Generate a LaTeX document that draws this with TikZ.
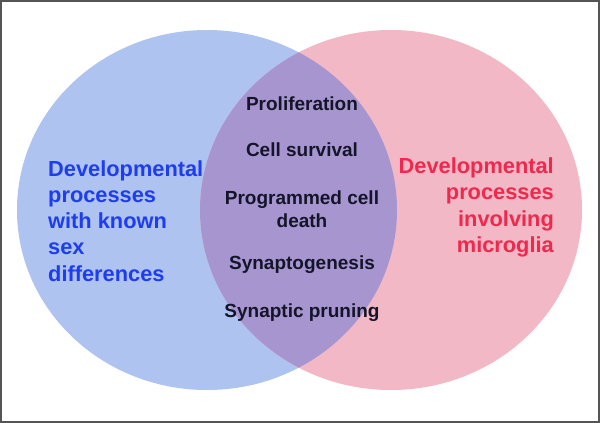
\documentclass[tikz,border=0pt]{standalone}
\usepackage{fontspec}
\setmainfont{Liberation Sans}
\usetikzlibrary{shapes.geometric}
\definecolor{blueset}{HTML}{AEC3F0}
\definecolor{pinkset}{HTML}{F2B8C5}
\definecolor{overlapset}{HTML}{A695CF}
\definecolor{bluetext}{HTML}{1E3CF0}
\definecolor{redtext}{HTML}{F0284E}
\definecolor{darktext}{HTML}{15152A}
\definecolor{frame}{HTML}{555555}
\tikzset{
  settext/.style={font=\bfseries\fontsize{21.8}{26.2}\selectfont, inner sep=0pt},
  itemtext/.style={font=\bfseries\fontsize{19}{23.5}\selectfont, text=darktext, inner sep=0pt, align=center},
}
\begin{document}
\begin{tikzpicture}[x=1pt,y=-1pt]
\useasboundingbox (0,0) rectangle (600,423);
\fill[white] (0,0) rectangle (600,423);
% sets
\fill[blueset] (207,210) ellipse [x radius=190, y radius=180];
\fill[pinkset] (391,210) ellipse [x radius=191, y radius=180];
\begin{scope}
  \clip (207,210) ellipse [x radius=190, y radius=180];
  \fill[overlapset] (391,210) ellipse [x radius=191, y radius=180];
\end{scope}
\draw[frame, line width=2pt] (1,1) rectangle (599,422);
% set labels
\node[settext, text=bluetext, align=left, anchor=west] (left) at (48,221)
  {Developmental\\processes\\with known\\sex\\differences};
\node[settext, text=redtext, align=right, anchor=east] (right) at (554,207.5)
  {Developmental\\processes\\involving\\microglia};
% shared items
\node[itemtext] (prolif) at (302,104) {Proliferation};
\node[itemtext] (surv) at (302,150) {Cell survival};
\node[itemtext] (pcd) at (302,209) {Programmed cell\\death};
\node[itemtext] (syngen) at (302,265) {Synaptogenesis};
\node[itemtext] (prune) at (302,313) {Synaptic pruning};
\end{tikzpicture}
\end{document}
